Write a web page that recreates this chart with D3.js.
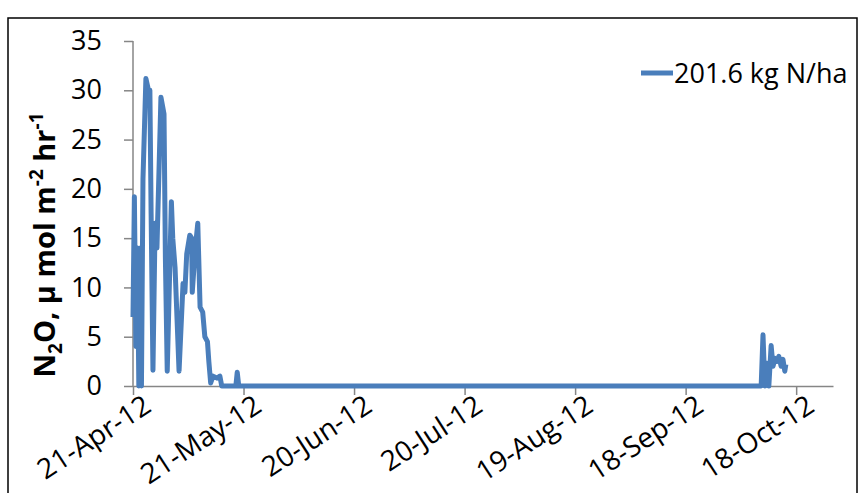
<!DOCTYPE html>
<html>
<head>
<meta charset="utf-8">
<script src="https://cdn.jsdelivr.net/npm/d3@7"></script>
<style>
  body { margin: 0; background: #fff; }
  svg text { font-family: "Open Sans", "Noto Sans", sans-serif; }
</style>
</head>
<body>
<div id="chart"></div>
<script>
// N2O flux readings (date-time, umol m-2 hr-1)
const times = [
  "2012-04-21 00:00", "2012-04-21 09:00", "2012-04-21 19:00", "2012-04-22 05:00",
  "2012-04-22 14:00", "2012-04-23 00:00", "2012-04-23 07:00", "2012-04-23 17:00",
  "2012-04-24 12:00", "2012-04-25 05:00", "2012-04-25 14:00", "2012-04-25 22:00",
  "2012-04-26 10:00", "2012-04-27 00:00", "2012-04-27 12:00", "2012-04-28 14:00",
  "2012-04-29 10:00", "2012-04-29 19:00", "2012-04-30 07:00", "2012-05-01 10:00",
  "2012-05-01 19:00", "2012-05-02 10:00", "2012-05-03 12:00", "2012-05-04 14:00",
  "2012-05-05 02:00", "2012-05-05 14:00", "2012-05-06 10:00", "2012-05-06 22:00",
  "2012-05-07 02:00", "2012-05-07 22:00", "2012-05-08 14:00", "2012-05-09 05:00",
  "2012-05-09 22:00", "2012-05-10 12:00", "2012-05-11 05:00", "2012-05-11 14:00",
  "2012-05-12 02:00", "2012-05-12 17:00", "2012-05-13 19:00", "2012-05-14 14:00",
  "2012-05-15 02:00", "2012-05-18 22:00", "2012-05-19 07:00", "2012-05-19 17:00",
  "2012-10-08 12:00", "2012-10-09 00:00", "2012-10-09 12:00", "2012-10-10 02:00",
  "2012-10-10 14:00", "2012-10-11 05:00", "2012-10-11 17:00", "2012-10-12 07:00",
  "2012-10-12 19:00", "2012-10-13 07:00", "2012-10-13 22:00", "2012-10-14 10:00",
  "2012-10-14 22:00", "2012-10-15 05:00"
];
const n2o = [
  7, 19.2, 4, 14,
  0, 14, 0, 21,
  31.2, 30, 30, 17.5,
  1.6, 16.5, 14, 29.3,
  27.6, 13, 1.5, 18.7,
  15, 12, 1.5, 10.4,
  9.5, 13.4, 15.3, 15,
  9.5, 14, 16.5, 8,
  7.5, 5, 4.5, 2.5,
  0.3, 1, 0.8, 1,
  0, 0, 1.4, 0,
  0, 5.2, 0, 2.3,
  0, 4.1, 2.0, 2.8,
  2.5, 3.0, 2.0, 2.7,
  1.5, 2.2
];
const seriesName = "201.6 kg N/ha";
const yTicks = [0, 5, 10, 15, 20, 25, 30, 35];
const xTickDates = ["2012-04-21", "2012-05-21", "2012-06-20", "2012-07-20",
                    "2012-08-19", "2012-09-18", "2012-10-18"];

const W = 865, H = 493;
const margin = {top: 41, right: 32, bottom: 107, left: 133};
const width = W - margin.left - margin.right,
      height = H - margin.top - margin.bottom;

const parseT = d3.timeParse("%Y-%m-%d %H:%M");
const parseD = d3.timeParse("%Y-%m-%d");
const fmt = d3.timeFormat("%-d-%b-%y");

const data = times.map((t, i) => ({ t: parseT(t), v: n2o[i] }));

const svg = d3.select("#chart").append("svg")
    .attr("width", W)
    .attr("height", H);

// outer frame
svg.append("rect")
    .attr("x", 8).attr("y", 18)
    .attr("width", 849).attr("height", 500)
    .attr("fill", "none")
    .attr("stroke", "#000")
    .attr("stroke-width", 1.5);

const g = svg.append("g")
    .attr("transform", "translate(" + margin.left + "," + margin.top + ")");

const x = d3.scaleTime()
    .domain([parseD("2012-04-21"), parseD("2012-10-28")])
    .range([0, width]);
const y = d3.scaleLinear()
    .domain([0, 35])
    .range([height, 0]);

// y axis
const yAxis = g.append("g")
    .call(d3.axisLeft(y).tickValues(yTicks).tickSize(9).tickPadding(22));
yAxis.selectAll("text")
    .attr("font-size", 27)
    .attr("fill", "#000");

// x axis
const xAxis = g.append("g")
    .attr("transform", "translate(0," + height + ")")
    .call(d3.axisBottom(x).tickValues(xTickDates.map(parseD)).tickFormat(fmt)
        .tickSize(9).tickSizeOuter(0));
xAxis.selectAll("text")
    .attr("font-size", 28)
    .attr("fill", "#000")
    .attr("text-anchor", "end")
    .attr("dx", 3)
    .attr("dy", 19)
    .attr("transform", "rotate(-33)");

g.selectAll(".domain, .tick line")
    .attr("stroke", "#868686")
    .attr("stroke-width", 1.5);
yAxis.select(".domain").attr("d", "M0," + height + "V0");

// series line
const line = d3.line()
    .x(d => x(d.t))
    .y(d => y(d.v));

const lineColor = "#4A7EBB";
g.append("path")
    .datum(data)
    .attr("d", line)
    .attr("fill", "none")
    .attr("stroke", lineColor)
    .attr("stroke-width", 5)
    .attr("stroke-linejoin", "round");

// y axis title
const yTitle = svg.append("text")
    .attr("transform", "translate(55,245) rotate(-90)")
    .attr("text-anchor", "middle")
    .attr("font-size", 29)
    .attr("font-weight", "bold");
yTitle.append("tspan").text("N");
yTitle.append("tspan").attr("font-size", 19).attr("dy", 7).text("2");
yTitle.append("tspan").attr("dy", -7).text("O, μ mol m");
yTitle.append("tspan").attr("font-size", 19).attr("dy", -12).text("-2");
yTitle.append("tspan").attr("dy", 12).text(" hr");
yTitle.append("tspan").attr("font-size", 19).attr("dy", -12).text("-1");

// legend
const leg = svg.append("g").attr("transform", "translate(641,73)");
leg.append("line")
    .attr("x1", 0).attr("x2", 32)
    .attr("stroke", lineColor)
    .attr("stroke-width", 5);
leg.append("text")
    .attr("x", 33).attr("y", 10)
    .attr("font-size", 27)
    .text(seriesName);
</script>
</body>
</html>
